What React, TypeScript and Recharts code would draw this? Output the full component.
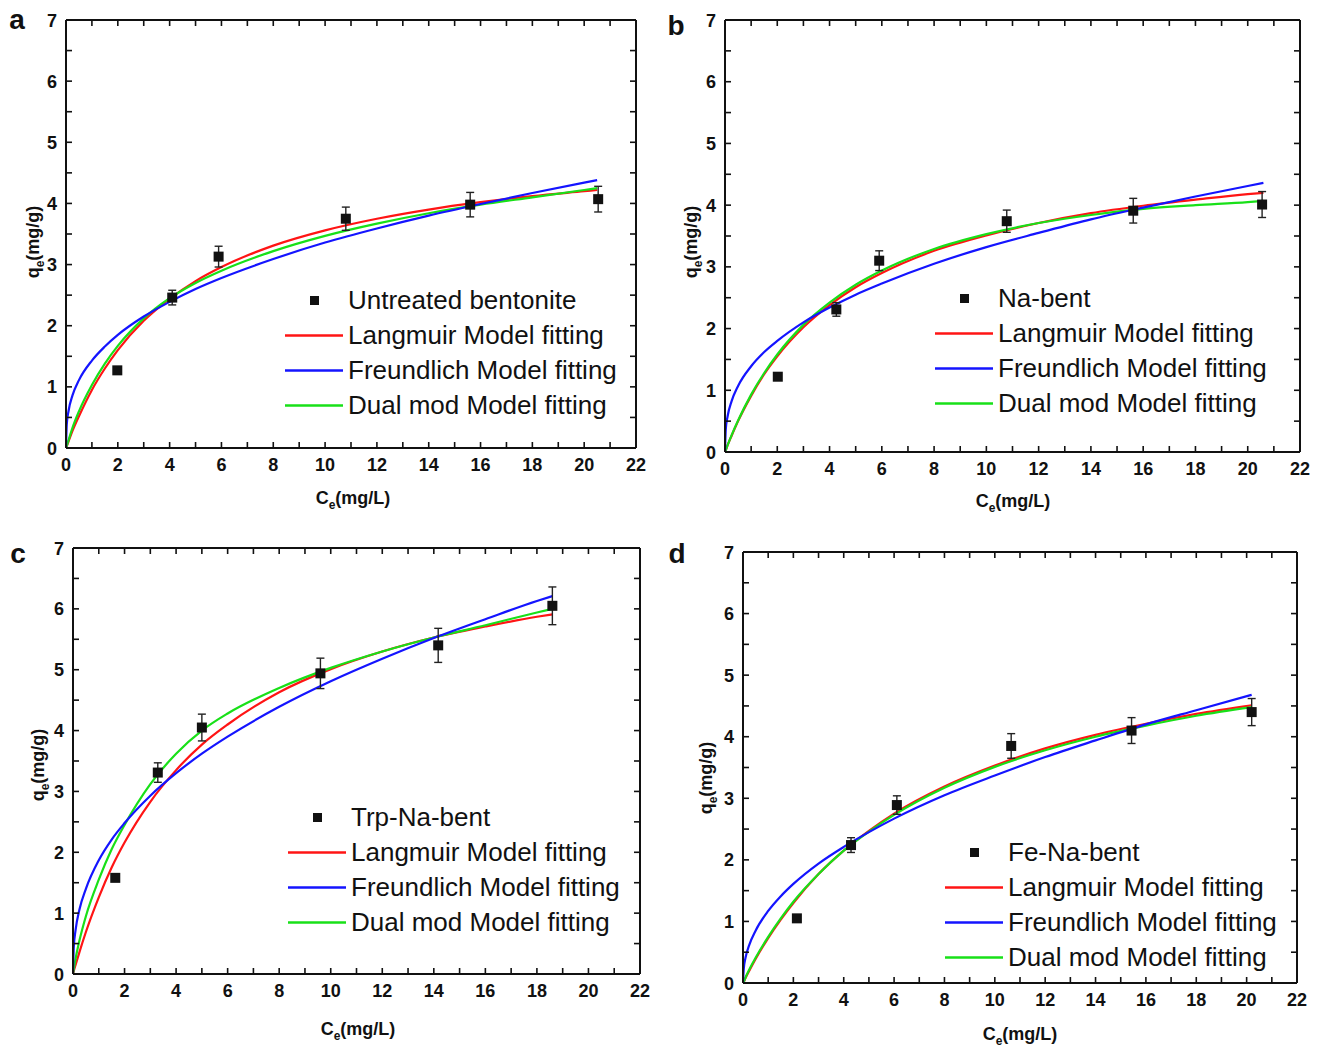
import { ComposedChart, Line, Scatter, ErrorBar, XAxis, YAxis, Legend } from 'recharts'

const FONT = '"Liberation Sans", Arial, sans-serif'
const RED = '#ff1414'
const BLUE = '#1414ff'
const GREEN = '#18e018'

const X_TICKS = Array.from({ length: 23 }, (_, i) => i)
const Y_TICKS = Array.from({ length: 15 }, (_, i) => i / 2)

// a – untreated bentonite
const aCe = [1.98, 4.1, 5.89, 10.8, 15.6, 20.54]
const aQe = [1.27, 2.46, 3.13, 3.75, 3.98, 4.07]
const aErr = [0.02, 0.12, 0.17, 0.19, 0.2, 0.21]
const aFitC = [0, 0.03, 0.1, 0.25, 0.5, 1, 1.5, 2, 3, 4, 5, 6, 8, 10, 12, 14, 16, 18, 20, 20.5]
const aLang = [0, 0.03, 0.11, 0.28, 0.52, 0.95, 1.3, 1.6, 2.08, 2.44, 2.73, 2.96, 3.31, 3.56, 3.75, 3.9, 4.02, 4.12, 4.2, 4.22]
const aFreu = [0, 0.39, 0.61, 0.86, 1.11, 1.43, 1.66, 1.85, 2.15, 2.39, 2.6, 2.78, 3.09, 3.36, 3.59, 3.8, 3.99, 4.17, 4.34, 4.38]
const aDual = [0, 0.04, 0.13, 0.33, 0.6, 1.03, 1.38, 1.67, 2.12, 2.45, 2.7, 2.9, 3.22, 3.47, 3.67, 3.84, 3.98, 4.1, 4.22, 4.25]

// b – Na-bent
const bCe = [2.02, 4.26, 5.9, 10.78, 15.62, 20.55]
const bQe = [1.22, 2.31, 3.1, 3.74, 3.91, 4.01]
const bErr = [0.02, 0.11, 0.16, 0.18, 0.2, 0.21]
const bFitC = [0, 0.03, 0.1, 0.25, 0.5, 1, 1.5, 2, 3, 4, 5, 6, 8, 10, 12, 14, 16, 18, 20, 20.6]
const bLang = [0, 0.03, 0.11, 0.26, 0.5, 0.91, 1.26, 1.55, 2.02, 2.38, 2.67, 2.9, 3.26, 3.51, 3.71, 3.87, 3.99, 4.09, 4.18, 4.2]
const bFreu = [0, 0.37, 0.58, 0.82, 1.07, 1.39, 1.62, 1.8, 2.1, 2.34, 2.55, 2.73, 3.05, 3.32, 3.55, 3.77, 3.96, 4.14, 4.31, 4.36]
const bDual = [0, 0.03, 0.11, 0.27, 0.51, 0.93, 1.28, 1.58, 2.06, 2.42, 2.71, 2.94, 3.29, 3.53, 3.71, 3.84, 3.94, 4.0, 4.05, 4.07]

// c – Trp-Na-bent
const cCe = [1.64, 3.29, 5.0, 9.6, 14.17, 18.6]
const cQe = [1.58, 3.31, 4.05, 4.94, 5.4, 6.05]
const cErr = [0.02, 0.16, 0.22, 0.25, 0.28, 0.31]
const cFitC = [0, 0.03, 0.1, 0.25, 0.5, 1, 1.5, 2, 3, 4, 5, 6, 8, 10, 12, 14, 16, 18, 18.6]
const cLang = [0, 0.05, 0.15, 0.36, 0.69, 1.26, 1.75, 2.16, 2.83, 3.35, 3.77, 4.1, 4.63, 5.01, 5.3, 5.53, 5.71, 5.87, 5.91]
const cFreu = [0, 0.44, 0.72, 1.06, 1.4, 1.87, 2.21, 2.48, 2.93, 3.3, 3.62, 3.9, 4.39, 4.81, 5.18, 5.52, 5.83, 6.13, 6.21]
const cDual = [0, 0.08, 0.25, 0.55, 0.95, 1.55, 2.05, 2.45, 3.12, 3.62, 4.0, 4.28, 4.7, 5.03, 5.3, 5.53, 5.73, 5.94, 6.0]

// d – Fe-Na-bent
const dCe = [2.14, 4.29, 6.11, 10.65, 15.43, 20.2]
const dQe = [1.05, 2.24, 2.89, 3.85, 4.1, 4.4]
const dErr = [0.02, 0.12, 0.15, 0.2, 0.21, 0.22]
const dFitC = [0, 0.03, 0.1, 0.25, 0.5, 1, 1.5, 2, 3, 4, 5, 6, 8, 10, 12, 14, 16, 18, 20.2]
const dLang = [0, 0.02, 0.08, 0.2, 0.39, 0.73, 1.03, 1.3, 1.77, 2.15, 2.47, 2.75, 3.19, 3.53, 3.81, 4.03, 4.21, 4.37, 4.51]
const dFreu = [0, 0.23, 0.41, 0.62, 0.85, 1.17, 1.41, 1.61, 1.94, 2.21, 2.45, 2.67, 3.05, 3.37, 3.67, 3.94, 4.2, 4.43, 4.68]
const dDual = [0, 0.02, 0.09, 0.22, 0.41, 0.75, 1.05, 1.32, 1.77, 2.15, 2.46, 2.73, 3.17, 3.51, 3.78, 4.0, 4.18, 4.34, 4.48]

const MODEL_NAMES = ['Langmuir Model fitting', 'Freundlich Model fitting', 'Dual mod Model fitting']

const pts = (cs: number[], qs: number[], errs: number[]) => cs.map((c, i) => ({ c, q: qs[i], err: errs[i] }))
const fit = (cs: number[], qs: number[]) => cs.map((c, i) => ({ c, q: qs[i] }))

type Box = { x: number; y: number; w: number; h: number }
type PanelDef = {
  letter: string
  name: string
  plot: Box
  points: { c: number; q: number; err: number }[]
  lang: { c: number; q: number }[]
  freu: { c: number; q: number }[]
  dual: { c: number; q: number }[]
  legend: { x: number; y: number }
  letterPos: { x: number; y: number }
  xTitle: { x: number; y: number }
  yTitle: { x: number; y: number }
}

const PANELS: PanelDef[] = [
  {
    letter: 'a', name: 'Untreated bentonite',
    plot: { x: 66, y: 20, w: 570, h: 428 },
    points: pts(aCe, aQe, aErr), lang: fit(aFitC, aLang), freu: fit(aFitC, aFreu), dual: fit(aFitC, aDual),
    legend: { x: 285, y: 300 }, letterPos: { x: 17, y: 20 },
    xTitle: { x: 353, y: 498 }, yTitle: { x: 33, y: 242 },
  },
  {
    letter: 'b', name: 'Na-bent',
    plot: { x: 725, y: 20, w: 575, h: 432 },
    points: pts(bCe, bQe, bErr), lang: fit(bFitC, bLang), freu: fit(bFitC, bFreu), dual: fit(bFitC, bDual),
    legend: { x: 935, y: 298 }, letterPos: { x: 676, y: 26 },
    xTitle: { x: 1013, y: 501 }, yTitle: { x: 691, y: 242 },
  },
  {
    letter: 'c', name: 'Trp-Na-bent',
    plot: { x: 73, y: 548, w: 567, h: 426 },
    points: pts(cCe, cQe, cErr), lang: fit(cFitC, cLang), freu: fit(cFitC, cFreu), dual: fit(cFitC, cDual),
    legend: { x: 288, y: 817 }, letterPos: { x: 18, y: 554 },
    xTitle: { x: 358, y: 1029 }, yTitle: { x: 38, y: 765 },
  },
  {
    letter: 'd', name: 'Fe-Na-bent',
    plot: { x: 743, y: 552, w: 554, h: 431 },
    points: pts(dCe, dQe, dErr), lang: fit(dFitC, dLang), freu: fit(dFitC, dFreu), dual: fit(dFitC, dDual),
    legend: { x: 945, y: 852 }, letterPos: { x: 677, y: 554 },
    xTitle: { x: 1020, y: 1034 }, yTitle: { x: 706, y: 778 },
  },
]

const tickText = { fontFamily: FONT, fontSize: 18, fontWeight: 700, fill: '#111' }
const AXIS_LINE = { stroke: '#111', strokeWidth: 2 }
const TICK_LINE = { stroke: '#111', strokeWidth: 1.6 }
const TICK_LEN = -6

// labels only on the major ticks; the tick marks themselves come from tickLine
const BottomLabel = ({ x, y, payload }: any) =>
  payload.value % 2 === 0 ? (
    <text x={x} y={y + 29} textAnchor="middle" {...tickText}>{payload.value}</text>
  ) : (
    <g />
  )
const LeftLabel = ({ x, y, payload }: any) =>
  Number.isInteger(payload.value) ? (
    <text x={x - 15} y={y + 6.5} textAnchor="end" {...tickText}>{payload.value}</text>
  ) : (
    <g />
  )
const NoLabel = () => <g />

const SquareDot = ({ cx, cy }: any) => <rect x={cx - 5} y={cy - 5} width={10} height={10} fill="#111" />

const Y_W = 60
const X_H = 40
const PAD = 20

function PanelLegend({ name }: { name: string }) {
  const rows = [
    { color: null as string | null, label: name },
    { color: RED, label: MODEL_NAMES[0] },
    { color: BLUE, label: MODEL_NAMES[1] },
    { color: GREEN, label: MODEL_NAMES[2] },
  ]
  return (
    <div style={{ fontFamily: FONT, fontSize: 26, color: '#111' }}>
      {rows.map((r) => (
        <div key={r.label} style={{ display: 'flex', alignItems: 'center', height: 35, whiteSpace: 'nowrap' }}>
          <svg width={58} height={35} style={{ marginRight: 5 }}>
            {r.color ? (
              <line x1={0} x2={58} y1={17.5} y2={17.5} stroke={r.color} strokeWidth={2.4} />
            ) : (
              <rect x={25} y={13} width={9} height={9} fill="#111" />
            )}
          </svg>
          <span>{r.label}</span>
        </div>
      ))}
    </div>
  )
}

function Panel({ p }: { p: PanelDef }) {
  // top / right mirror axes are 1px thick, so the margins give that pixel back
  const left = p.plot.x - Y_W
  const top = p.plot.y - PAD
  const width = p.plot.w + Y_W + PAD
  const height = p.plot.h + PAD + X_H
  const common = { type: 'number' as const, interval: 0 as const, allowDataOverflow: true, tickLine: TICK_LINE, tickSize: TICK_LEN, tickMargin: 0 }
  return (
    <div style={{ position: 'absolute', left, top }}>
      <ComposedChart width={width} height={height} margin={{ top: PAD - 1, right: PAD - 1, bottom: 0, left: 0 }}>
        <XAxis {...common} dataKey="c" domain={[0, 22]} ticks={X_TICKS} height={X_H} axisLine={AXIS_LINE} tick={BottomLabel} />
        <XAxis {...common} xAxisId="top" orientation="top" dataKey="c" domain={[0, 22]} ticks={X_TICKS} height={1} axisLine={AXIS_LINE} tick={NoLabel} />
        <YAxis {...common} dataKey="q" domain={[0, 7]} ticks={Y_TICKS} width={Y_W} axisLine={AXIS_LINE} tick={LeftLabel} />
        <YAxis {...common} yAxisId="right" orientation="right" dataKey="q" domain={[0, 7]} ticks={Y_TICKS} width={1} axisLine={AXIS_LINE} tick={NoLabel} />
        <Line data={p.lang} dataKey="q" type="monotone" stroke={RED} strokeWidth={2.2} dot={false} isAnimationActive={false} />
        <Line data={p.dual} dataKey="q" type="monotone" stroke={GREEN} strokeWidth={2.2} dot={false} isAnimationActive={false} />
        <Line data={p.freu} dataKey="q" type="monotone" stroke={BLUE} strokeWidth={2.2} dot={false} isAnimationActive={false} />
        <Scatter data={p.points} dataKey="q" shape={<SquareDot />} isAnimationActive={false}>
          <ErrorBar dataKey="err" direction="y" width={4} stroke="#222" strokeWidth={1.4} />
        </Scatter>
        <Legend
          layout="vertical" align="center" verticalAlign="middle"
          content={() => <PanelLegend name={p.name} />}
          wrapperStyle={{ left: p.legend.x - left, top: p.legend.y - 17.5 - top, width: 'auto' }}
        />
      </ComposedChart>
    </div>
  )
}

const titleStyle = { position: 'absolute' as const, fontFamily: FONT, fontSize: 18, fontWeight: 700, color: '#111', whiteSpace: 'nowrap' as const }
const subStyle = { fontSize: 12, position: 'relative' as const, top: 5 }

export default function App() {
  return (
    <div style={{ position: 'absolute', left: 0, top: 0, width: 1323, height: 1050, background: '#fff' }}>
      {PANELS.map((p) => (
        <div key={p.letter}>
          <Panel p={p} />
          <div style={{ ...titleStyle, left: p.letterPos.x, top: p.letterPos.y, fontSize: 28, transform: 'translate(-50%,-50%)' }}>
            {p.letter}
          </div>
          <div style={{ ...titleStyle, left: p.xTitle.x, top: p.xTitle.y, transform: 'translate(-50%,-50%)' }}>
            C<span style={subStyle}>e</span>(mg/L)
          </div>
          <div style={{ ...titleStyle, left: p.yTitle.x, top: p.yTitle.y, transform: 'translate(-50%,-50%) rotate(-90deg)' }}>
            q<span style={subStyle}>e</span>(mg/g)
          </div>
        </div>
      ))}
    </div>
  )
}
